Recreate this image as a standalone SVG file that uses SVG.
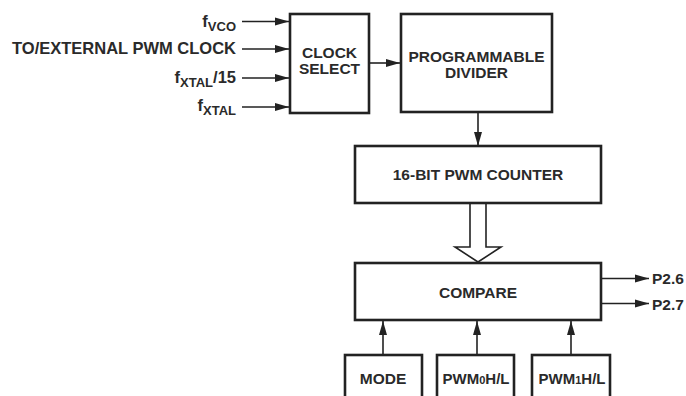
<svg xmlns="http://www.w3.org/2000/svg" width="686" height="396" viewBox="0 0 686 396">
<defs>
<marker id="ah" markerUnits="userSpaceOnUse" markerWidth="14" markerHeight="10" viewBox="0 0 14 10" refX="14" refY="5" orient="auto">
<path d="M0,1 L14,5 L0,9 Z" fill="#222"/>
</marker>
</defs>
<style>
.box{fill:#fff;stroke:#222;stroke-width:2.6}
.ln{fill:none;stroke:#222;stroke-width:1.6;marker-end:url(#ah)}
text{font-family:"Liberation Sans",Arial,sans-serif;font-weight:bold;fill:#2a2a2a}
.c{text-anchor:middle}
.r{text-anchor:end}
</style>
<rect width="686" height="396" fill="#fff"/>
<g id="connectors">
<line class="ln" x1="242" y1="21.5" x2="289" y2="21.5"/>
<line class="ln" x1="242" y1="49" x2="289" y2="49"/>
<line class="ln" x1="242" y1="78" x2="289" y2="78"/>
<line class="ln" x1="242" y1="107" x2="289" y2="107"/>
<line class="ln" x1="369" y1="63" x2="400" y2="63"/>
<line class="ln" x1="478" y1="112" x2="478" y2="146"/>
<path d="M470,203 V247 H455 L478,262 L501,247 H486 V203" fill="#fff" stroke="#222" stroke-width="1.6"/>
<line class="ln" x1="601" y1="278.5" x2="649" y2="278.5"/>
<line class="ln" x1="601" y1="303.5" x2="649" y2="303.5"/>
<line class="ln" x1="383" y1="355" x2="383" y2="321"/>
<line class="ln" x1="477" y1="355" x2="477" y2="321"/>
<line class="ln" x1="571" y1="355" x2="571" y2="321"/>
</g>
<g id="inputs">
<text class="r" x="236" y="27" font-size="16.5">f<tspan font-size="13" dy="4">VCO</tspan></text>
<text class="r" x="236" y="54" font-size="16.5">TO/EXTERNAL PWM CLOCK</text>
<text class="r" x="236" y="83" font-size="16.5">f<tspan font-size="13" dy="4">XTAL</tspan><tspan dy="-4">/15</tspan></text>
<text class="r" x="236" y="111" font-size="16.5">f<tspan font-size="13" dy="4">XTAL</tspan></text>
</g>
<g id="clock-select">
<rect class="box" x="290" y="14" width="79" height="99"/>
<text class="c" x="329.5" y="57.5" font-size="15.5">CLOCK</text>
<text class="c" x="329.5" y="74" font-size="15.5">SELECT</text>
</g>
<g id="prog-divider">
<rect class="box" x="401" y="14" width="151" height="98"/>
<text class="c" x="476.5" y="61.5" font-size="15.5">PROGRAMMABLE</text>
<text class="c" x="476.5" y="78" font-size="15.5">DIVIDER</text>
</g>
<g id="pwm-counter">
<rect class="box" x="355" y="146" width="246" height="57"/>
<text class="c" x="478" y="179.5" font-size="15.5">16-BIT PWM COUNTER</text>
</g>
<g id="compare">
<rect class="box" x="355" y="263" width="246" height="57"/>
<text class="c" x="478" y="297.5" font-size="15.5">COMPARE</text>
</g>
<g id="outputs">
<text x="652" y="284" font-size="15.5">P2.6</text>
<text x="652" y="310" font-size="15.5">P2.7</text>
</g>
<g id="mode">
<rect class="box" x="345" y="355" width="77" height="50"/>
<text class="c" x="383" y="384" font-size="15.5">MODE</text>
</g>
<g id="pwm0hl">
<rect class="box" x="437" y="355" width="77" height="50"/>
<text class="c" x="476" y="384" font-size="15">PWM<tspan font-size="11">0</tspan>H/L</text>
</g>
<g id="pwm1hl">
<rect class="box" x="532" y="355" width="78" height="50"/>
<text class="c" x="572" y="384" font-size="15">PWM<tspan font-size="11">1</tspan>H/L</text>
</g>
</svg>
